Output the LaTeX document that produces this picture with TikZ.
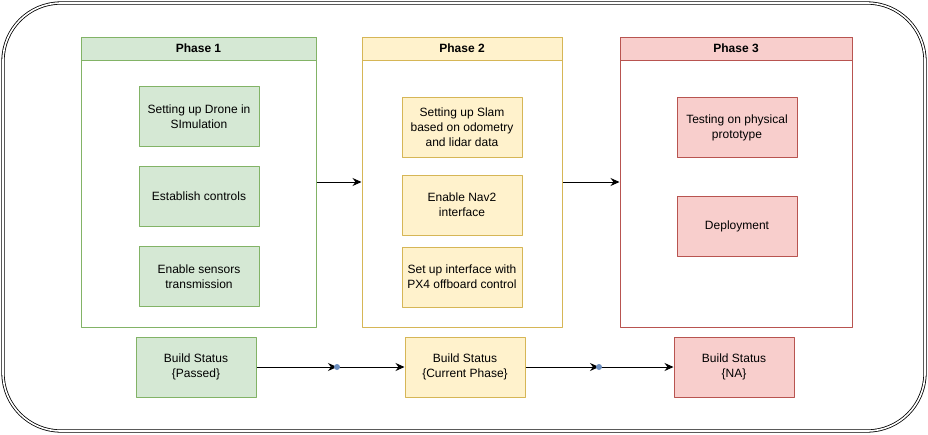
\documentclass[tikz,border=0pt]{standalone}
\usepackage{fontspec}
\setmainfont{Liberation Sans}
\usetikzlibrary{arrows.meta}
\definecolor{fillg}{HTML}{D5E8D4}
\definecolor{lineg}{HTML}{82B366}
\definecolor{filly}{HTML}{FFF2CC}
\definecolor{liney}{HTML}{D6B656}
\definecolor{fillr}{HTML}{F8CECC}
\definecolor{liner}{HTML}{B85450}
\definecolor{dotblue}{HTML}{6C8EBF}
\begin{document}
\begin{tikzpicture}[x=1pt,y=-1pt, font=\fontsize{12}{15}\selectfont, line join=round, >={Stealth[length=9pt,width=8pt]},
  task/.style={draw=line#1, fill=fill#1, line width=1pt, minimum width=120pt, minimum height=60pt, align=center, inner sep=1pt}]
\useasboundingbox (0,0) rectangle (928,434);
\draw[double, line width=0.8pt, double distance=1.6pt, rounded corners=58pt] (3,3) rectangle (925,431);

% phase frames with their title bars
\foreach \n/\x/\w/\c/\l in {p1/198.5/235/g/Phase 1, p2/462/200/y/Phase 2, p3/736/232/r/Phase 3}{
  \node[draw=line\c, line width=1pt, minimum width=\w pt, minimum height=290pt] (\n) at (\x,182) {};
  \node[draw=line\c, fill=fill\c, line width=1pt, minimum width=\w pt, minimum height=23pt, anchor=north, font=\fontsize{12}{15}\selectfont\bfseries] at (\n.north) {\l};
}

% tasks
\foreach \n/\x/\y/\c/\t in {a1/199/116.5/g/{Setting up Drone in\\SImulation}, a2/199/196.5/g/Establish controls,
  a3/199/276.5/g/{Enable sensors\\transmission}, b1/462/127.5/y/{Setting up Slam\\based on odometry\\and lidar data},
  b2/462/205/y/{Enable Nav2\\interface}, b3/462/277/y/{Set up interface with\\PX4 offboard control},
  c1/737/127.5/r/{Testing on physical\\prototype}, c2/737/226/r/Deployment}{
  \node[task=\c] (\n) at (\x,\y) {\t};
}

% build status
\foreach \n/\x/\c/\t in {s1/196/g/Passed, s2/465/y/Current Phase, s3/734/r/NA}{
  \node[task=\c] (\n) at (\x,367) {Build Status\\\{\t\}};
}
\coordinate (d1) at (337,367);
\coordinate (d2) at (599,367);

\draw[->, line width=1pt] (p1.east) -- (p2.west);
\draw[->, line width=1pt] (p2.east) -- (p3.west);
\draw[->, line width=1pt] (s1) -- (d1);
\draw[->, line width=1pt] (d1) -- (s2);
\draw[->, line width=1pt] (s2) -- (d2);
\draw[->, line width=1pt] (d2) -- (s3);
\foreach \d in {d1,d2}{\fill[dotblue] (\d) circle (3pt);}
\end{tikzpicture}
\end{document}
